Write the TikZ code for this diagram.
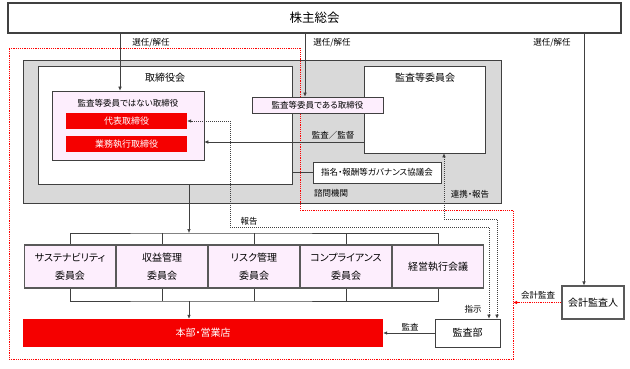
\documentclass[tikz,border=0pt]{standalone}
\usepackage{fontspec}
\setmainfont{Noto Sans CJK JP}[RawFeature=+palt]
\usetikzlibrary{arrows.meta, positioning}
\definecolor{lineg}{HTML}{404040}
\definecolor{thickg}{HTML}{595959}
\definecolor{panelg}{HTML}{D9D9D9}
\definecolor{pinkf}{HTML}{FDEEFD}
\definecolor{redf}{HTML}{F50000}
\definecolor{framer}{HTML}{FF0000}

\begin{document}
\begin{tikzpicture}[x=1pt, y=-1pt,
  box/.style={draw=lineg, line width=0.7pt, fill=white, align=center, inner sep=0pt,
              font=\fontsize{10}{13}\selectfont},
  pinkbox/.style={box, fill=pinkf},
  heavybox/.style={box, draw=thickg, line width=1.1pt},
  combox/.style={heavybox, fill=pinkf, minimum width=91pt, minimum height=43pt,
                 font=\fontsize{10}{18}\selectfont},
  redbox/.style={fill=redf, text=white, align=center, inner sep=0pt,
                 font=\fontsize{9}{11}\selectfont},
  ttl/.style={inner sep=0pt, font=\fontsize{10}{12}\selectfont},
  lbl/.style={inner sep=0pt, font=\fontsize{8.5}{10}\selectfont},
  arr/.style={-{Latex[length=4pt,width=3.6pt]}, draw=lineg, line width=0.6pt},
  dotarr/.style={{Latex[length=4pt,width=3.6pt]}-{Latex[length=4pt,width=3.6pt]},
                 draw=lineg, line width=0.6pt, dash pattern=on 1pt off 1pt},
  reddot/.style={draw=framer, line width=0.9pt, dash pattern=on 1.2pt off 1pt},
  bus/.style={draw=lineg, line width=0.6pt},
]
  \useasboundingbox (0,0) rectangle (630,368);

  % panel and red frame
  \draw[draw=lineg, line width=0.7pt, fill=panelg] (23,60) rectangle (501,203);
  \draw[reddot] (9,48) -- (300,48) -- (300,210) -- (513,210) -- (513,359) -- (9,359) -- cycle;

  \node[heavybox, draw=lineg, minimum width=613pt, minimum height=30pt,
        font=\fontsize{12.5}{14}\selectfont] (gm) at (314.5,18) {株主総会};

  \node[box, minimum width=254pt, minimum height=118pt] (board) at (165,125) {};
  \node[ttl] (boardt) at (165,78) {取締役会};
  \node[pinkbox, minimum width=152pt, minimum height=69pt] (nonaud) at (128,125.5) {};
  \node[lbl] (nonaudt) at (128,103) {監査等委員ではない取締役};
  \node[redbox, minimum width=121pt, minimum height=16pt] (rep) at (126.5,121) {代表取締役};
  \node[redbox, minimum width=121pt, minimum height=16pt] (exe) at (126.5,144) {業務執行取締役};

  \node[box, minimum width=121pt, minimum height=87pt] (acm) at (424.5,109.5) {};
  \node[ttl] (acmt) at (425,78) {監査等委員会};
  \node[pinkbox, minimum width=131pt, minimum height=16pt,
        font=\fontsize{8.5}{10}\selectfont] (acdir) at (317.5,105) {監査等委員である取締役};
  \node[box, minimum width=128pt, minimum height=21pt,
        font=\fontsize{8.5}{10}\selectfont] (gov) at (377,172.5) {指名・報酬等ガバナンス協議会};

  \foreach \nm/\txt [count=\i from 0] in {c1/{サステナビリティ\\委員会}, c2/{収益管理\\委員会},
      c3/{リスク管理\\委員会}, c4/{コンプライアンス\\委員会}, c5/{経営執行会議}}
    \node[combox] (\nm) at (70+92*\i,266.5) {\txt};

  \node[redbox, minimum width=360pt, minimum height=28pt,
        font=\fontsize{10}{12}\selectfont] (hq) at (203,333) {本部・営業店};
  \node[box, minimum width=65pt, minimum height=28pt] (audd) at (467.5,333) {監査部};
  \node[heavybox, minimum width=62pt, minimum height=33pt] (ext) at (593,302.5) {会計監査人};

  % shareholders
  \coordinate (s1) at (120,0);
  \coordinate (s2) at (305,0);
  \coordinate (s3) at (584,0);
  \draw[arr] (gm.south -| s1) -- (nonaud.north -| s1);
  \draw[arr] (gm.south -| s2) -- (acdir.north -| s2);
  \draw[arr] (gm.south -| s3) -- (ext.north -| s3);
  \node[lbl] (l1) at (151,43) {選任/解任};
  \node[lbl] (l2) at (332,43) {選任/解任};
  \node[lbl] (l3) at (552,43) {選任/解任};

  % audit committee
  \coordinate (sv) at (0,142);
  \draw[arr] (acm.west |- sv) -- (nonaud.east |- sv);
  \node[lbl] (svl) at (333,135) {監査／監督};
  \draw[bus] (gov.west) -- (gov.west -| board.east);
  \node[lbl] (advl) at (331,193) {諮問機関};

  % reporting lines
  \coordinate (r1) at (489,227);
  \coordinate (r2) at (230,227);
  \draw[dotarr] (audd.north -| r1) -- (r1) -- (r2) |- (rep.east);
  \node[lbl] (rl) at (249,221) {報告};
  \node[lbl] (il) at (473,309) {指示};
  \coordinate (k1) at (497,219);
  \coordinate (k2) at (444,219);
  \draw[dotarr] (audd.north -| k1) -- (k1) -- (k2) -- (acm.south -| k2);
  \node[lbl] (kl) at (470,194) {連携・報告};

  % committees
  \coordinate (b1) at (189,233);
  \coordinate (b2) at (189,301);
  \draw[arr] (board.south -| b1) -- (b1);
  \draw[bus] (c1.north) |- (b1) -| (c5.north);
  \draw[bus] (c1.south) |- (b2) -| (c5.south);
  \foreach \nm in {c2,c3,c4} {
    \draw[bus] (\nm.north) -- (\nm.north |- b1);
    \draw[bus] (\nm.south) -- (\nm.south |- b2);
  }
  \draw[arr] (b2) -- (hq.north -| b2);

  % audits
  \draw[arr] (audd.west) -- (hq.east |- audd.west);
  \node[lbl] (al) at (410,327) {監査};
  \coordinate (e1) at (513,0);
  \draw[reddot, -{Latex[length=4pt,width=3.6pt]}] (ext.west) -- (ext.west -| e1);
  \node[lbl] (el) at (538,295) {会計監査};
\end{tikzpicture}
\end{document}
